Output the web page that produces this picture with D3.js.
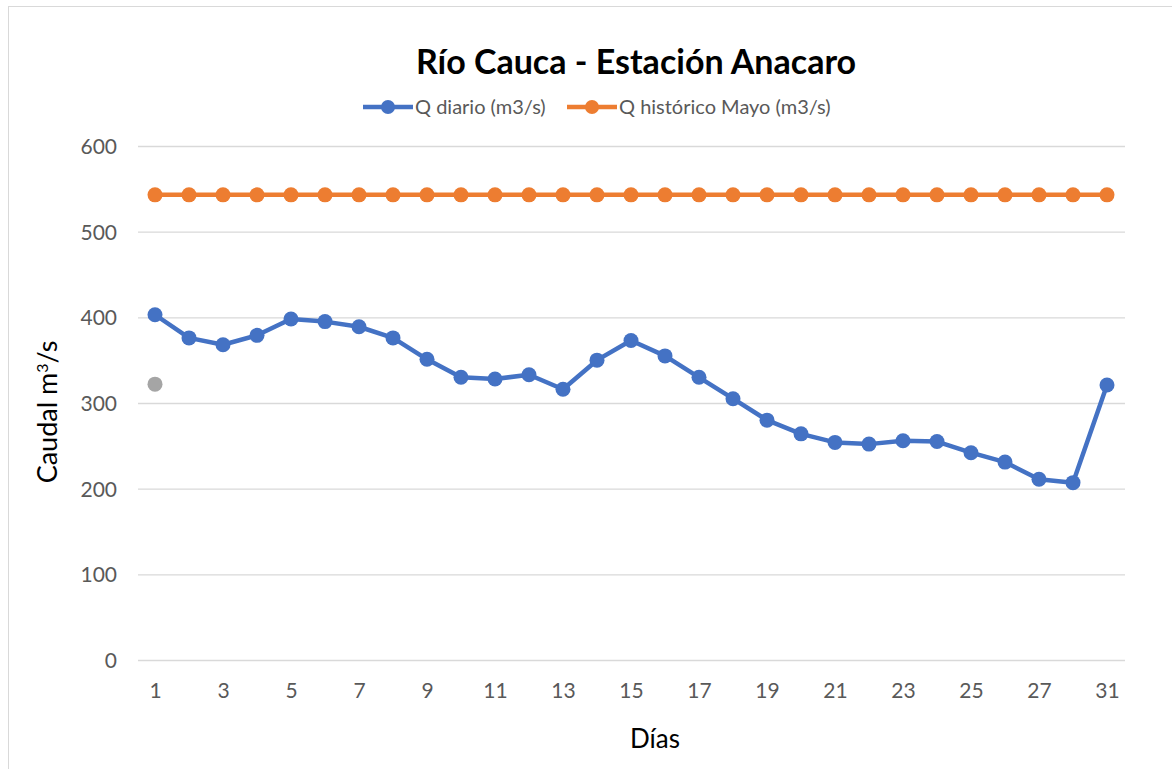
<!DOCTYPE html>
<html>
<head>
<meta charset="utf-8">
<script src="https://cdn.jsdelivr.net/npm/d3@7"></script>
<style>
  body { margin: 0; background: #fff; }
  svg text { font-family: Lato, "Open Sans", sans-serif; }
</style>
</head>
<body>
<svg id="chart" width="1172" height="769"></svg>
<script>
// dias (29 y 30 no vienen en la serie)
var days = [1,2,3,4,5,6,7,8,9,10,11,12,13,14,15,16,17,18,19,20,21,22,23,24,25,26,27,28,31];
var qDiario = [403,376,368,379,398,395,389,376,351,330,328,333,316,350,373,355,330,305,280,264,254,252,256,255,242,231,211,207,321];
var qHistorico = days.map(function(){ return 543; });
var extraPoint = [{ day: 1, value: 322 }];
var yTicks = [0,100,200,300,400,500,600];

var svg = d3.select("#chart");

svg.append("rect")
    .attr("x", 8.5).attr("y", 6.5)
    .attr("width", 1200).attr("height", 800)
    .attr("fill", "none").attr("stroke", "#d9d9d9");

var x = d3.scalePoint().domain(days).range([155, 1107]);
var y = d3.scaleLinear().domain([0, 600]).range([660, 146]);

// grid
svg.append("g").selectAll("line")
    .data(yTicks).enter().append("line")
    .attr("x1", 138).attr("x2", 1125)
    .attr("y1", function(d){ return y(d) + 0.5; })
    .attr("y2", function(d){ return y(d) + 0.5; })
    .attr("stroke", "#d9d9d9").attr("stroke-width", 1.3);

var yAxis = d3.axisLeft(y).tickValues(yTicks).tickSize(0).tickPadding(0);
svg.append("g").attr("transform", "translate(117,0)").call(yAxis)
    .call(function(g){ g.select(".domain").remove(); })
    .selectAll("text")
    .attr("fill", "#595959").style("font-size", "21px")
    .attr("dy", "0.35em");

var xAxis = d3.axisBottom(x)
    .tickValues(days.filter(function(d, i){ return i % 2 === 0; }))
    .tickSize(0).tickPadding(0);
svg.append("g").attr("transform", "translate(0,691)").call(xAxis)
    .call(function(g){ g.select(".domain").remove(); })
    .selectAll("text")
    .attr("fill", "#595959").style("font-size", "21px")
    .attr("dy", "0.35em");

var line = d3.line()
    .x(function(d, i){ return x(days[i]); })
    .y(function(d){ return y(d); });

function drawSeries(values, color) {
    svg.append("path").datum(values)
        .attr("d", line)
        .attr("fill", "none").attr("stroke", color)
        .attr("stroke-width", 4.5).attr("stroke-linejoin", "round");
    svg.append("g").selectAll("circle")
        .data(values).enter().append("circle")
        .attr("cx", function(d, i){ return x(days[i]); })
        .attr("cy", function(d){ return y(d); })
        .attr("r", 7.5).attr("fill", color);
}

drawSeries(qDiario, "#4472c4");
drawSeries(qHistorico, "#ed7d31");

svg.append("g").selectAll("circle")
    .data(extraPoint).enter().append("circle")
    .attr("cx", function(d){ return x(d.day); })
    .attr("cy", function(d){ return y(d.value); })
    .attr("r", 7.5).attr("fill", "#a5a5a5");

// titulo
svg.append("text")
    .attr("x", 636).attr("y", 74)
    .attr("text-anchor", "middle")
    .style("font-size", "34px").style("font-weight", "bold")
    .attr("fill", "#000")
    .text("Río Cauca - Estación Anacaro");

// leyenda
var legend = [
    { label: "Q diario (m3/s)", color: "#4472c4", x: 363 },
    { label: "Q histórico Mayo (m3/s)", color: "#ed7d31", x: 567 }
];
var lg = svg.append("g").selectAll("g").data(legend).enter().append("g")
    .attr("transform", function(d){ return "translate(" + d.x + ",107)"; });
lg.append("line").attr("x1", 0).attr("x2", 50)
    .attr("stroke", function(d){ return d.color; }).attr("stroke-width", 4.5);
lg.append("circle").attr("cx", 25).attr("r", 7).attr("fill", function(d){ return d.color; });
lg.append("text").attr("x", 52).attr("dy", "0.35em")
    .style("font-size", "20px").attr("fill", "#595959")
    .text(function(d){ return d.label; });

// ejes
svg.append("text")
    .attr("x", 655).attr("y", 748)
    .attr("text-anchor", "middle")
    .style("font-size", "26px").attr("fill", "#000")
    .text("Días");

var yt = svg.append("text")
    .attr("transform", "translate(57,412) rotate(-90)")
    .attr("text-anchor", "middle")
    .style("font-size", "27px").attr("fill", "#000");
yt.append("tspan").text("Caudal m");
yt.append("tspan").attr("dy", -9).style("font-size", "16px").text("3");
yt.append("tspan").attr("dy", 9).text("/s");
</script>
</body>
</html>
